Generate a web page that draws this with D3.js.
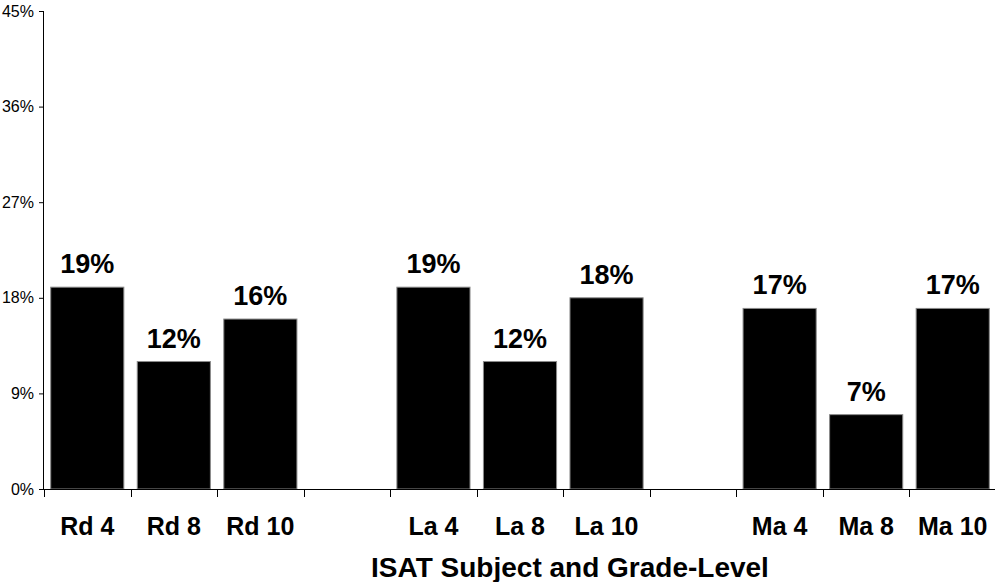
<!DOCTYPE html>
<html>
<head>
<meta charset="utf-8">
<script src="https://cdn.jsdelivr.net/npm/d3@7"></script>
<style>
  body { margin: 0; background: #fff; }
  svg { display: block; font-family: Arial, "Liberation Sans", sans-serif; }
</style>
</head>
<body>
<div id="vis"></div>
<script>
'use strict'

// slots on the x axis; the gaps are empty slots between subjects
const categories = ["Rd 4", "Rd 8", "Rd 10", "gap1", "La 4", "La 8", "La 10", "gap2", "Ma 4", "Ma 8", "Ma 10"];
const tickLabels = ["Rd 4", "Rd 8", "Rd 10", "", "La 4", "La 8", "La 10", "", "Ma 4", "Ma 8", "Ma 10"];
const values = [19, 12, 16, null, 19, 12, 18, null, 17, 7, 17];
const yTicks = [0, 9, 18, 27, 36, 45];
const xTitle = "ISAT Subject and Grade-Level";

const width = 995, height = 582;
const margin = { top: 11, right: -1, bottom: 93, left: 44 };

const svg = d3.select('#vis').append('svg')
  .attr('width', width)
  .attr('height', height);

const x = d3.scaleBand()
  .domain(categories)
  .range([margin.left, width - margin.right])
  .padding(0);

const y = d3.scaleLinear()
  .domain([0, 45])
  .range([height - margin.bottom, margin.top]);

const barW = x.bandwidth() * 0.845;
const data = categories.map((c, i) => ({ key: c, label: tickLabels[i], value: values[i] }));

// bars
svg.append('g')
  .selectAll('rect')
  .data(data.filter(d => d.value != null))
  .join('rect')
  .attr('x', d => x(d.key) + (x.bandwidth() - barW) / 2)
  .attr('y', d => y(d.value))
  .attr('width', barW)
  .attr('height', d => y(0) - y(d.value))
  .attr('fill', '#000')
  .attr('stroke', '#8a8a8a')
  .attr('stroke-width', 1);

// y axis
const yAxis = svg.append('g')
  .attr('transform', `translate(${margin.left},0)`)
  .call(d3.axisLeft(y).tickValues(yTicks).tickFormat(d => d + '%').tickSize(5).tickPadding(5));
yAxis.attr('font-size', null).attr('font-family', null);
yAxis.select('.domain').attr('stroke', '#000').attr('d', `M-0.5,${y(45)}V${y(0)}`);
yAxis.selectAll('.tick line').attr('stroke', '#000');
yAxis.selectAll('.tick text')
  .style('font-size', '16px')
  .attr('fill', '#000');

// x axis: line plus tick marks on slot boundaries
const xAxis = svg.append('g');
xAxis.append('line')
  .attr('x1', margin.left).attr('x2', width)
  .attr('y1', y(0) + 0.5).attr('y2', y(0) + 0.5)
  .attr('stroke', '#000');
xAxis.selectAll('line.tk')
  .data(categories)
  .join('line')
  .attr('class', 'tk')
  .attr('x1', d => Math.round(x(d)) + 0.5)
  .attr('x2', d => Math.round(x(d)) + 0.5)
  .attr('y1', y(0))
  .attr('y2', y(0) + 8)
  .attr('stroke', '#000');

xAxis.selectAll('text')
  .data(data.filter(d => d.label))
  .join('text')
  .attr('x', d => x(d.key) + x.bandwidth() / 2)
  .attr('y', 535)
  .attr('text-anchor', 'middle')
  .style('font-size', '25px')
  .attr('font-weight', 'bold')
  .text(d => d.label);

// value labels
svg.append('g')
  .selectAll('text')
  .data(data.filter(d => d.value != null))
  .join('text')
  .attr('x', d => x(d.key) + x.bandwidth() / 2)
  .attr('y', d => y(d.value) - 14)
  .attr('text-anchor', 'middle')
  .style('font-size', '27px')
  .attr('font-weight', 'bold')
  .text(d => d.value + '%');

// axis title
svg.append('text')
  .attr('x', 570)
  .attr('y', 577)
  .attr('text-anchor', 'middle')
  .style('font-size', '28px')
  .attr('font-weight', 'bold')
  .text(xTitle);
</script>
</body>
</html>
